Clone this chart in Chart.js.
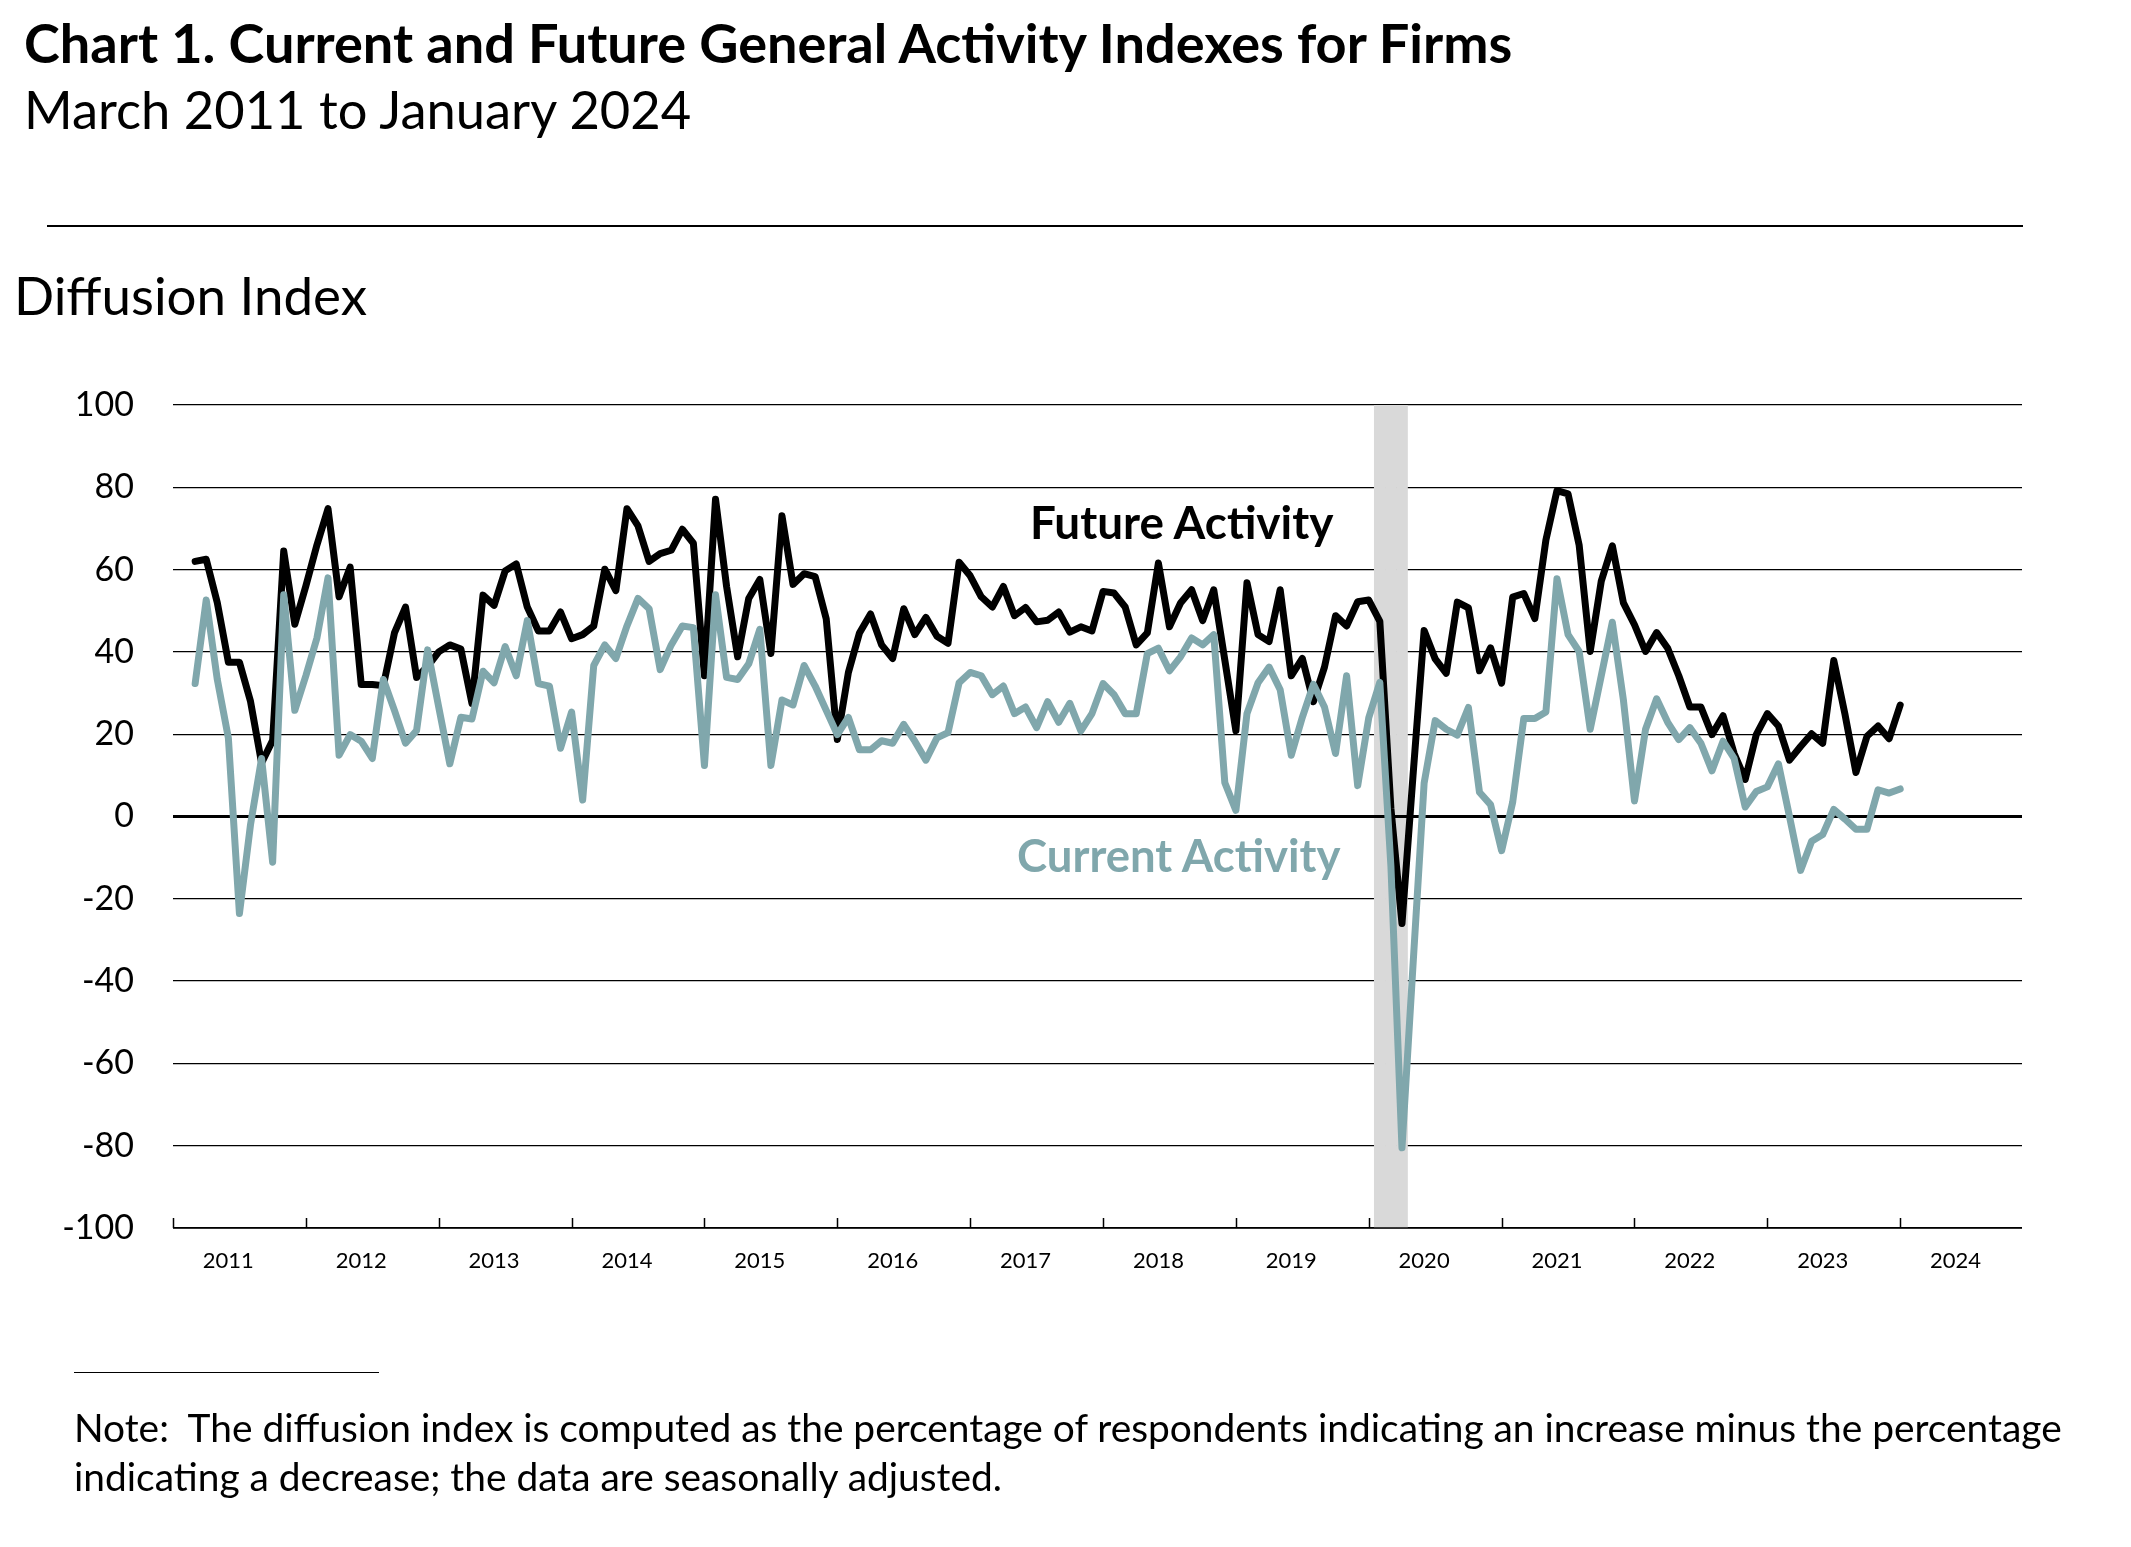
<!DOCTYPE html>
<html>
<head>
<meta charset="utf-8">
<script src="https://cdn.jsdelivr.net/npm/chart.js@4.4.1/dist/chart.umd.min.js"></script>
<style>
  html, body { margin: 0; padding: 0; background: #fff; }
  body { width: 2131px; height: 1547px; position: relative; overflow: hidden; }
  #c { position: absolute; left: 0; top: 0; }
  .t { position: absolute; white-space: pre; color: #000; margin: 0; }
  .rule { position: absolute; background: #000; }
</style>
</head>
<body>
<canvas id="c" width="2131" height="1547"></canvas>
<div class="t" id="title">Chart 1. Current and Future General Activity Indexes for Firms</div>
<div class="t" id="subtitle">March 2011 to January 2024</div>
<div class="rule" id="rule1" style="left:47px; top:225px; width:1976px; height:2px;"></div>
<div class="t" id="ylabel">Diffusion Index</div>
<div class="t" id="futLabel">Future Activity</div>
<div class="t" id="curLabel">Current Activity</div>
<div class="rule" id="rule2" style="left:74px; top:1372px; width:305px; height:1px;"></div>
<div class="t" id="note1">Note:  The diffusion index is computed as the percentage of respondents indicating an increase minus the percentage</div>
<div class="t" id="note2">indicating a decrease; the data are seasonally adjusted.</div>
<script>
// ---------------- DATA ----------------
const firstMonth = '2011-03';   // first observation
const yearsOnAxis = [2011, 2012, 2013, 2014, 2015, 2016, 2017, 2018, 2019, 2020, 2021, 2022, 2023, 2024];
const recessionMonths = ['2020-02', '2020-03', '2020-04'];
const yTicks = { min: -100, max: 100, step: 20 };

// Future general activity index (Mar 2011 - Jan 2024, monthly)
const futureActivity = [
  62.0, 62.5, 52, 37.5, 37.5, 28, 13, 18.5, 64.5, 46.7,                    // 2011 Mar-Dec
  56, 66, 74.8, 53.4, 60.6, 32.1, 32.1, 31.8, 44.6, 50.9, 33.8, 36.5,      // 2012
  40.0, 41.7, 40.7, 27.5, 53.8, 51.3, 59.7, 61.4, 50.9, 45.1, 45.1, 49.7,  // 2013
  43.2, 44.2, 46.3, 60.1, 54.9, 74.8, 70.6, 62.0, 63.9, 64.7, 69.8, 66.4,  // 2014
  34.2, 77.1, 55.9, 38.8, 53.0, 57.6, 39.6, 73.1, 56.4, 59.0, 58.3, 48.0,  // 2015
  18.7, 35.0, 44.6, 49.2, 41.7, 38.4, 50.5, 44.2, 48.4, 43.8, 42.1, 61.8,  // 2016
  58.5, 53.4, 50.9, 55.9, 48.8, 50.8, 47.3, 47.7, 49.7, 44.8, 46.1, 45.1,  // 2017
  54.7, 54.3, 50.9, 41.7, 44.6, 61.6, 46.1, 51.9, 55.1, 47.6, 55.1, 38.0,  // 2018
  20.8, 56.8, 44.2, 42.5, 55.1, 34.2, 38.4, 27.9, 36.3, 48.8, 46.3, 52.2,  // 2019
  52.6, 47.4, 2.0, -26.0, 10.0, 45.2, 38.3, 34.8, 52.1, 50.7, 35.4, 41.0,  // 2020
  32.4, 53.3, 54.2, 48.1, 67.2, 79.2, 78.4, 66.0, 40.1, 57.2, 65.8, 51.9,  // 2021
  46.6, 40.1, 44.7, 40.9, 34.2, 26.6, 26.6, 19.9, 24.5, 15.3, 9.0, 19.9,   // 2022
  25.0, 22.0, 13.7, 17.0, 20.1, 17.8, 37.9, 25.0, 10.7, 19.5, 22.0, 18.9,  // 2023
  27.1                                                                      // 2024 Jan
];

// Current general activity index (Mar 2011 - Jan 2024, monthly)
const currentActivity = [
  32.3, 52.6, 33.3, 19.1, -23.6, -2.0, 14.1, -11.1, 53.9, 25.8,             // 2011 Mar-Dec
  34.2, 43.4, 58.0, 14.9, 19.9, 18.3, 14.1, 33.3, 25.8, 17.8, 20.9, 40.5,  // 2012
  26.6, 12.8, 24.1, 23.7, 35.3, 32.5, 41.3, 34.2, 47.6, 32.3, 31.7, 16.6,  // 2013
  25.4, 4.0, 36.7, 41.7, 38.4, 46.3, 53.0, 50.5, 35.7, 41.7, 46.3, 45.9,   // 2014
  12.4, 53.9, 33.8, 33.3, 37.1, 45.5, 12.4, 28.3, 27.1, 36.7, 31.7, 25.8,  // 2015
  19.9, 24.1, 16.2, 16.2, 18.4, 17.8, 22.4, 18.3, 13.7, 19.1, 20.4, 32.5,  // 2016
  35.0, 34.2, 29.6, 31.7, 25.0, 26.6, 21.6, 27.9, 22.9, 27.5, 20.8, 25.0,  // 2017
  32.3, 29.6, 25.0, 25.0, 39.6, 40.9, 35.4, 38.8, 43.4, 41.7, 44.2, 8.2,   // 2018
  1.5, 25.0, 32.5, 36.3, 30.8, 14.9, 24.1, 32.1, 26.6, 15.3, 34.2, 7.5,    // 2019
  24.0, 32.6, -12.0, -80.5, -36.0, 8.1, 23.3, 21.2, 19.8, 26.5, 5.9, 2.9,  // 2020
  -8.3, 3.5, 23.8, 23.8, 25.4, 57.8, 44.2, 40.1, 21.2, 34.2, 47.2, 28.3,   // 2021
  3.8, 21.2, 28.6, 22.9, 18.7, 21.6, 17.8, 11.1, 18.3, 14.1, 2.3, 6.1,     // 2022
  7.2, 12.8, 0.0, -13.1, -6.0, -4.4, 1.7, -0.6, -3.1, -3.1, 6.5, 5.7,      // 2023
  6.7                                                                       // 2024 Jan
];

// ---------------- BUILD ----------------
const monthLabels = [];
yearsOnAxis.forEach(y => { for (let m = 1; m <= 12; m++) monthLabels.push(y + '-' + String(m).padStart(2, '0')); });

const startIdx = monthLabels.indexOf(firstMonth);
const toSeries = arr => monthLabels.map((l, i) => (i >= startIdx && i - startIdx < arr.length) ? arr[i - startIdx] : null);
const futureSeries = toSeries(futureActivity);
const currentSeries = toSeries(currentActivity);
const recessionSeries = monthLabels.map(l => recessionMonths.includes(l) ? [yTicks.min, yTicks.max] : null);

// ---------------- TEXT PLACEMENT ----------------
const FONT = '"Lato", sans-serif';
const mctx = document.createElement('canvas').getContext('2d');
function place(id, o) {
  const el = document.getElementById(id);
  const weight = o.weight || 400;
  let size = o.size;
  if (!size) {
    mctx.font = `${weight} 100px ${FONT}`;
    size = 100 * o.width / mctx.measureText(el.textContent).width;
  }
  mctx.font = `${weight} ${size}px ${FONT}`;
  const mt = mctx.measureText('H');
  const cap = mt.actualBoundingBoxAscent;
  const A = mt.fontBoundingBoxAscent, D = mt.fontBoundingBoxDescent;
  const L = Math.round(size * 1.2);
  const baseline = o.capCenter + cap / 2;
  el.style.font = `${weight} ${size}px ${FONT}`;
  el.style.lineHeight = L + 'px';
  el.style.left = o.left + 'px';
  el.style.top = (baseline - ((L - (A + D)) / 2 + A)) + 'px';
  if (o.color) el.style.color = o.color;
  return size;
}
const TEAL = '#80A7AC';
place('title', { left: 24, width: 1493, capCenter: 43, weight: 700 });
place('subtitle', { left: 24, width: 670, capCenter: 110 });
place('ylabel', { left: 14, width: 353, capCenter: 296 });
place('futLabel', { left: 1030, width: 305, capCenter: 522, weight: 700 });
place('curLabel', { left: 1017, width: 325, capCenter: 855, weight: 700, color: TEAL });
const noteSize = place('note1', { left: 74, width: 1990, capCenter: 1428 });
place('note2', { left: 74, size: noteSize, capCenter: 1477 });

// ---------------- CHART ----------------
const extras = {
  id: 'extras',
  afterDatasetDraw(chart, args) {
    if (args.index !== 0) return;
    const { ctx, chartArea: a, scales: { y } } = chart;
    ctx.save();
    ctx.strokeStyle = '#000';
    ctx.lineWidth = 2.8;
    ctx.beginPath();
    const y0 = y.getPixelForValue(0);
    ctx.moveTo(a.left, y0); ctx.lineTo(a.right, y0);
    ctx.stroke();
    ctx.lineWidth = 1.5;
    ctx.beginPath();
    const yb = y.getPixelForValue(yTicks.min);
    ctx.moveTo(a.left, yb); ctx.lineTo(a.right, yb);
    ctx.stroke();
    ctx.restore();
  },
  afterDraw(chart) {
    const { ctx, chartArea: a, scales: { x } } = chart;
    ctx.save();
    ctx.strokeStyle = '#000';
    ctx.lineWidth = 1.5;
    ctx.beginPath();
    monthLabels.forEach((l, i) => {
      if (l.endsWith('-01')) {
        const px = Math.round(x.getPixelForValue(i)) + 0.5;
        ctx.moveTo(px, a.bottom); ctx.lineTo(px, a.bottom - 10);
      }
    });
    ctx.stroke();
    ctx.restore();
  }
};

new Chart(document.getElementById('c').getContext('2d'), {
  type: 'line',
  data: {
    labels: monthLabels,
    datasets: [
      { type: 'bar', label: 'Recession', data: recessionSeries, backgroundColor: '#D9D9D9',
        borderWidth: 0, barPercentage: 1, categoryPercentage: 1, order: 3 },
      { label: 'Current Activity', data: currentSeries, borderColor: TEAL, borderWidth: 7,
        pointRadius: 0, tension: 0, borderJoinStyle: 'round', borderCapStyle: 'round', fill: false, order: 1 },
      { label: 'Future Activity', data: futureSeries, borderColor: '#000', borderWidth: 7,
        pointRadius: 0, tension: 0, borderJoinStyle: 'round', borderCapStyle: 'round', fill: false, order: 2 }
    ]
  },
  options: {
    responsive: false,
    animation: false,
    devicePixelRatio: 1,
    layout: { padding: { top: 405, right: 109, bottom: 259, left: 0 } },
    plugins: { legend: { display: false }, tooltip: { enabled: false }, title: { display: false } },
    scales: {
      x: {
        type: 'category',
        offset: false,
        border: { display: false },
        grid: { display: false, drawTicks: false, offset: false },
        ticks: {
          autoSkip: false, maxRotation: 0, minRotation: 0, padding: 20,
          color: '#000', font: { family: 'Lato', size: 22 },
          callback: (v, i) => monthLabels[i].endsWith('-06') ? monthLabels[i].slice(0, 4) : ''
        },
        afterFit: s => { s.height = 60; }
      },
      y: {
        min: yTicks.min, max: yTicks.max,
        border: { display: false },
        grid: { color: '#000', lineWidth: 1.2, drawTicks: false },
        ticks: { stepSize: yTicks.step, padding: 39, color: '#000', font: { family: 'Lato', size: 34 } },
        afterFit: s => { s.width = 173; }
      }
    }
  },
  plugins: [extras]
});
</script>
</body>
</html>
